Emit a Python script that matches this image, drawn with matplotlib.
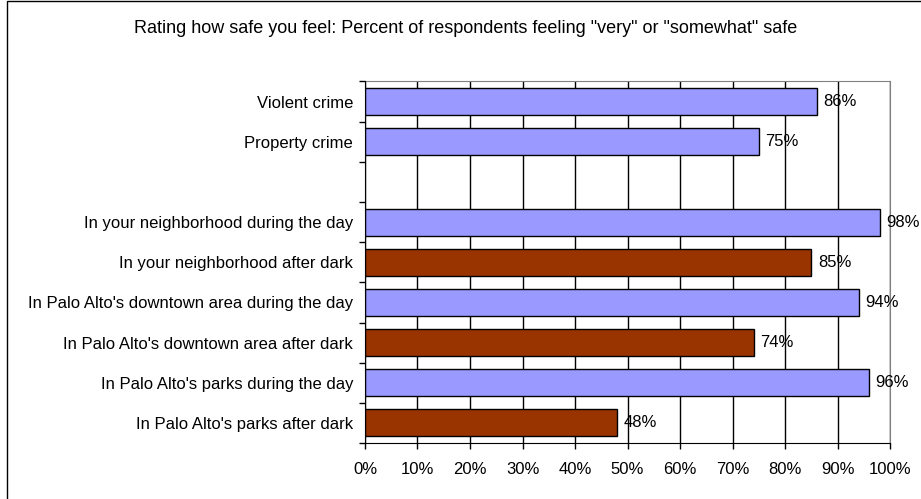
import matplotlib.pyplot as plt
import numpy as np
from matplotlib.patches import Rectangle

plt.rcParams['font.family'] = ['Liberation Sans', 'DejaVu Sans']

title = 'Rating how safe you feel: Percent of respondents feeling "very" or "somewhat" safe'
categories = ['Violent crime', 'Property crime', '',
              'In your neighborhood during the day',
              'In your neighborhood after dark',
              "In Palo Alto's downtown area during the day",
              "In Palo Alto's downtown area after dark",
              "In Palo Alto's parks during the day",
              "In Palo Alto's parks after dark"]
values = [86, 75, None, 98, 85, 94, 74, 96, 48]
is_dark = [False, False, False, False, True, False, True, False, True]

day_color = '#9999FF'
dark_color = '#993300'

fig = plt.figure(figsize=(9.21, 4.99), dpi=100)
# chart frame (runs past the right and bottom edge as in the original)
fig.patches.append(Rectangle((0.0076, -0.01), 1.0, 1.008, transform=fig.transFigure,
                             fill=False, edgecolor='black', linewidth=1))
ax = fig.add_axes([0.3963, 0.1122, 0.5701, 0.7245])

ys = np.arange(len(categories))
for y, v, dark in zip(ys, values, is_dark):
    if v is None:
        continue
    ax.barh(y, v, height=0.67, color=dark_color if dark else day_color,
            edgecolor='black', linewidth=1, zorder=3)
    ax.annotate(f'{v}%', (v, y), xytext=(4.8, 0), textcoords='offset points',
                va='center', ha='left', fontsize=12, zorder=4)

ax.set_xlim(0, 100)
ax.set_ylim(len(categories) - 0.5, -0.5)
ax.set_xticks(np.arange(0, 101, 10))
ax.set_xticklabels([f'{t}%' for t in range(0, 101, 10)], fontsize=12)
ax.set_yticks(ys)
ax.set_yticklabels(categories, fontsize=12)
ax.set_yticks(np.arange(-0.5, len(categories), 1), minor=True)
ax.tick_params(axis='y', which='major', length=0, pad=8.6)
ax.tick_params(axis='y', which='minor', length=4, width=1, direction='out')
ax.tick_params(axis='x', length=4, width=1, direction='out', pad=9.5)
ax.grid(axis='x', color='black', linewidth=1, zorder=0)
ax.set_axisbelow(True)
for side in ['top', 'right']:
    ax.spines[side].set_color('#808080')
for side in ['left', 'bottom']:
    ax.spines[side].set_color('black')
    ax.spines[side].set_zorder(5)

fig.text(0.506, 0.942, title, ha='center', va='center', fontsize=13)

fig.savefig('out.png', dpi=100)
